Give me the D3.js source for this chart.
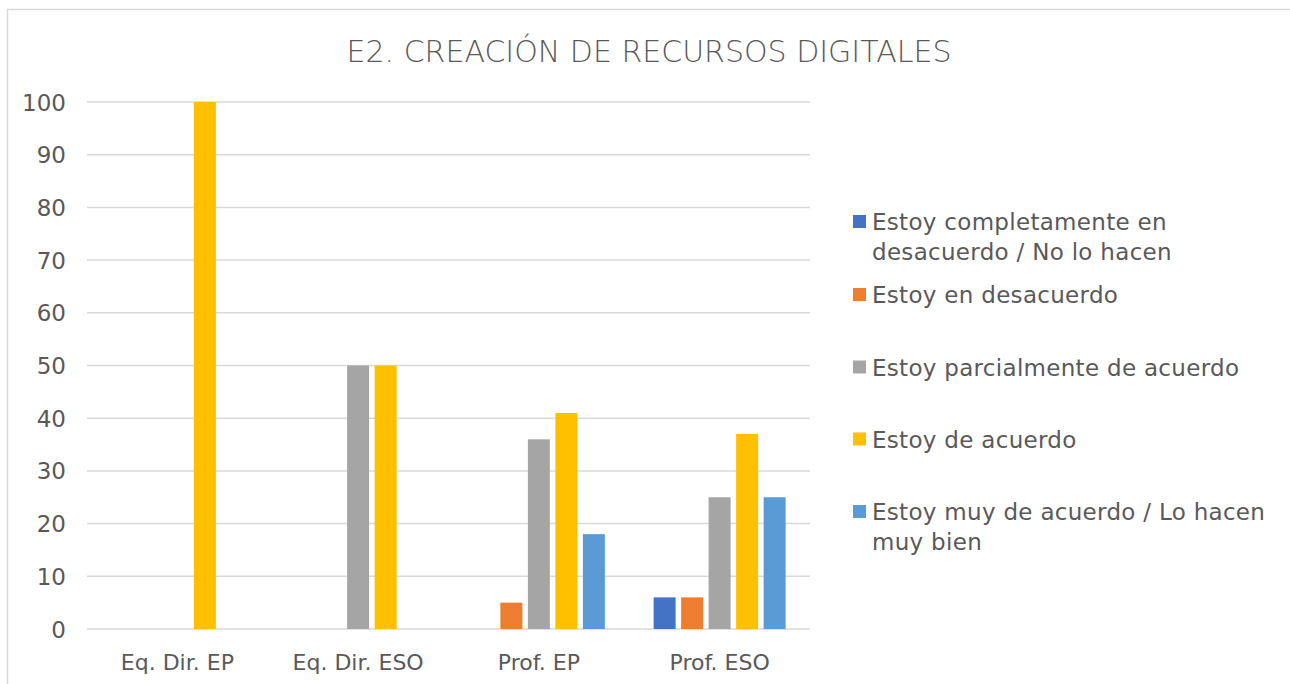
<!DOCTYPE html>
<html>
<head>
<meta charset="utf-8">
<script src="https://cdn.jsdelivr.net/npm/d3@7"></script>
<style>
  body { margin: 0; background: #fff; }
  text { font-family: 'DejaVu Sans', sans-serif; fill: #595959; }
</style>
</head>
<body>
<div id="chart"></div>
<script>
var categories = ['Eq. Dir. EP', 'Eq. Dir. ESO', 'Prof. EP', 'Prof. ESO'];
var seriesNames = [
  'Estoy completamente en desacuerdo / No lo hacen',
  'Estoy en desacuerdo',
  'Estoy parcialmente de acuerdo',
  'Estoy de acuerdo',
  'Estoy muy de acuerdo / Lo hacen muy bien'
];
var legendLines = [
  ['Estoy completamente en', 'desacuerdo / No lo hacen'],
  ['Estoy en desacuerdo'],
  ['Estoy parcialmente de acuerdo'],
  ['Estoy de acuerdo'],
  ['Estoy muy de acuerdo / Lo hacen', 'muy bien']
];
var seriesColors = ['#4472c4', '#ed7d31', '#a5a5a5', '#ffc000', '#5b9bd5'];
// values per series, in category order
var completDesac = [0, 0, 0, 6];
var desac = [0, 0, 5, 6];
var parcial = [0, 50, 36, 25];
var deAcuerdo = [100, 50, 41, 37];
var muyDeAcuerdo = [0, 0, 18, 25];
var seriesValues = [completDesac, desac, parcial, deAcuerdo, muyDeAcuerdo];
var yTicks = [0, 10, 20, 30, 40, 50, 60, 70, 80, 90, 100];

var W = 1290, H = 684;
var plot = {left: 87, right: 810, top: 102, bottom: 629};

var svg = d3.select('#chart').append('svg')
  .attr('width', W).attr('height', H);

// chart frame
svg.append('rect')
  .attr('x', 7.5).attr('y', 9.5)
  .attr('width', W + 10).attr('height', H + 10)
  .attr('fill', 'none')
  .attr('stroke', '#d9d9d9')
  .attr('stroke-width', 1.5);

svg.append('text')
  .attr('x', 649).attr('y', 62)
  .attr('text-anchor', 'middle')
  .style('font-size', '30px')
  .style('font-weight', 200)
  .text('E2. CREACIÓN DE RECURSOS DIGITALES');

var y = d3.scaleLinear().domain([0, 100]).range([plot.bottom, plot.top]);
var x0 = d3.scaleBand().domain(categories).range([plot.left, plot.right]);
var clusterW = 143;
var x1 = d3.scaleBand().domain(d3.range(seriesNames.length))
  .range([(x0.bandwidth() - clusterW) / 2, (x0.bandwidth() + clusterW) / 2])
  .padding(0.2);

// gridlines
svg.append('g').selectAll('line')
  .data(yTicks)
  .enter().append('line')
  .attr('x1', plot.left).attr('x2', plot.right)
  .attr('y1', function(d) { return y(d); })
  .attr('y2', function(d) { return y(d); })
  .attr('stroke', '#d9d9d9')
  .attr('stroke-width', 1.5);

var yAxis = d3.axisLeft(y).tickValues(yTicks).tickSize(0).tickPadding(0);
var yg = svg.append('g')
  .attr('transform', 'translate(66,0)')
  .call(yAxis);
yg.select('.domain').remove();
yg.selectAll('text')
  .style('font-size', '23px')
  .attr('dy', '0.35em');

// bars
var rows = [];
categories.forEach(function(c, ci) {
  seriesValues.forEach(function(vals, si) {
    if (vals[ci] > 0) rows.push({cat: c, s: si, v: vals[ci]});
  });
});

svg.append('g').selectAll('rect')
  .data(rows)
  .enter().append('rect')
  .attr('x', function(d) { return x0(d.cat) + x1(d.s); })
  .attr('y', function(d) { return y(d.v); })
  .attr('width', x1.bandwidth())
  .attr('height', function(d) { return y(0) - y(d.v); })
  .attr('fill', function(d) { return seriesColors[d.s]; });

var xAxis = d3.axisBottom(x0).tickSize(0).tickPadding(0);
var xg = svg.append('g')
  .attr('transform', 'translate(0,' + plot.bottom + ')')
  .call(xAxis);
xg.select('.domain').remove();
xg.selectAll('text')
  .style('font-size', '22px')
  .attr('y', 33)
  .attr('dy', '0.35em');

// legend
var legendY = [222, 295, 367.5, 439.5, 512];
var leg = svg.append('g').selectAll('g')
  .data(seriesNames)
  .enter().append('g')
  .attr('transform', function(d, i) { return 'translate(853,' + legendY[i] + ')'; });

leg.append('rect')
  .attr('x', 0).attr('y', -7)
  .attr('width', 13).attr('height', 13)
  .attr('fill', function(d, i) { return seriesColors[i]; });

leg.append('text')
  .attr('x', 19)
  .style('font-size', '23px')
  .style('letter-spacing', '0.3px')
  .each(function(d, i) {
    var t = d3.select(this);
    legendLines[i].forEach(function(line, li) {
      t.append('tspan')
        .attr('x', 19)
        .attr('y', li * 30)
        .attr('dy', '0.35em')
        .text(line);
    });
  });
</script>
</body>
</html>
